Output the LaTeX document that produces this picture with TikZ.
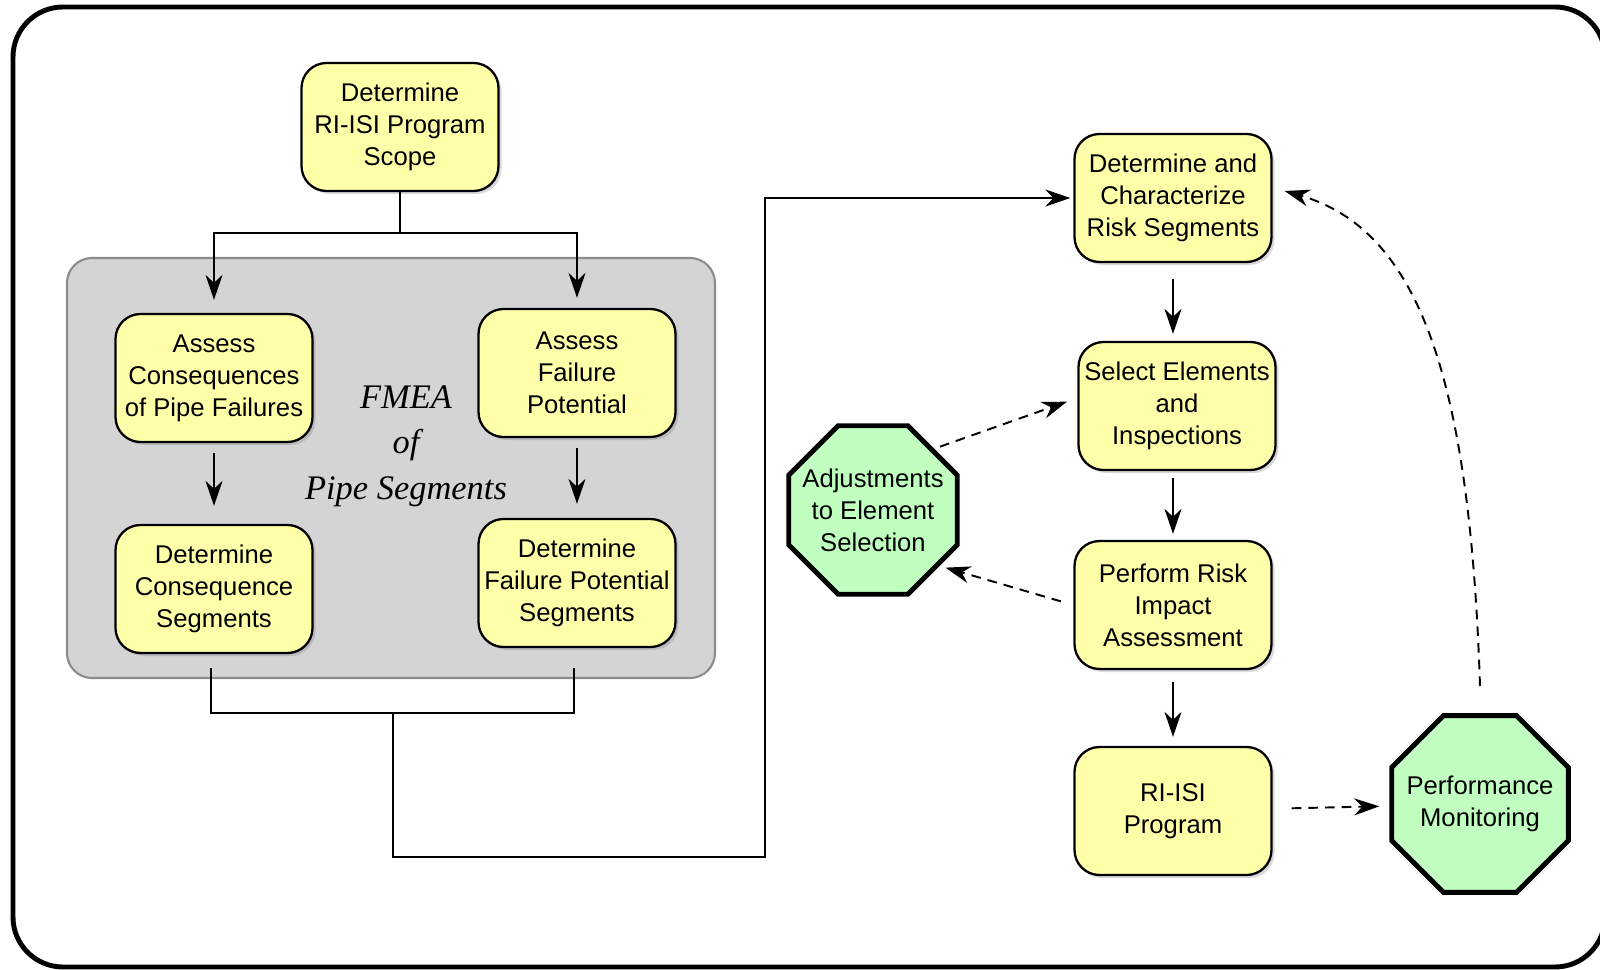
\documentclass[tikz,border=0pt]{standalone}
\usepackage{fontspec}
\setmainfont{Liberation Sans}
\newfontfamily\fmeafont{Liberation Serif}
\usetikzlibrary{arrows.meta,shapes.geometric,shadows}
\definecolor{boxyellow}{RGB}{255,255,170}
\definecolor{octgreen}{RGB}{192,255,192}
\definecolor{panelgray}{RGB}{212,212,212}
\definecolor{panelline}{RGB}{140,140,140}
\begin{document}
\begin{tikzpicture}[
    stepbox/.style={draw, line width=1.3pt, rounded corners=0.5cm, fill=boxyellow,
      minimum width=3.94cm, minimum height=2.56cm, inner sep=1pt, align=center,
      font=\fontsize{14.6}{18.2}\selectfont,
      drop shadow={shadow xshift=0.6mm, shadow yshift=-0.6mm, opacity=0.3}},
    octbox/.style={draw, line width=2.8pt, regular polygon, regular polygon sides=8,
      fill=octgreen, minimum size=3.6cm, inner sep=-0.22cm, align=center,
      font=\fontsize{14.6}{18.2}\selectfont},
    arr/.style={line width=1.1pt, -{Stealth[length=0.5cm, width=0.34cm, inset=0.16cm]}},
    dasharr/.style={arr, dash pattern=on 5.5pt off 4pt}
  ]
      \useasboundingbox (0,0) rectangle (32,-19.4);
      \draw[line width=2.8pt, rounded corners=1cm] (0.26,-0.14) rectangle (32.1,-19.34);
      \draw[fill=panelgray, draw=panelline, line width=1.2pt, rounded corners=0.5cm]
        (1.34,-5.16) rectangle (14.3,-13.56);

      \node[stepbox] (scope) at (8.0,-2.54) {Determine\\RI-ISI Program\\Scope};
      \node[stepbox] (assessC) at (4.28,-7.56) {Assess\\Consequences\\of Pipe Failures};
      \node[stepbox] (assessF) at (11.54,-7.46) {Assess\\Failure\\Potential};
      \node[stepbox] (detC) at (4.28,-11.78) {Determine\\Consequence\\Segments};
      \node[stepbox] (detF) at (11.54,-11.66) {Determine\\Failure Potential\\Segments};
      \node[font=\fmeafont\itshape\fontsize{19.6}{26}\selectfont, align=center] (fmea)
        at (8.12,-8.92) {FMEA\\of\\Pipe Segments};

      \node[stepbox] (charact) at (23.46,-3.96) {Determine and\\Characterize\\Risk Segments};
      \node[stepbox] (select) at (23.54,-8.12) {Select Elements\\and\\Inspections};
      \node[stepbox] (perform) at (23.46,-12.1) {Perform Risk\\Impact\\Assessment};
      \node[stepbox] (program) at (23.46,-16.22) {RI-ISI\\Program};
      \node[octbox] (adjust) at (17.46,-10.2) {Adjustments\\to Element\\Selection};
      \node[octbox] (monitor) at (29.6,-16.08) {Performance\\Monitoring};

      \coordinate (split) at (8.0,-4.66);
      \coordinate (cL) at (4.22,-13.36);
      \coordinate (cR) at (11.48,-13.36);
      \coordinate (merge) at (7.86,-14.26);
      \coordinate (low) at (7.86,-17.14);
      \coordinate (riser) at (15.3,-17.14);
      \coordinate (mtop) at (29.6,-13.72);

      \begin{scope}[line width=1.1pt]
        \draw (scope) -- (split);
        \draw[arr, shorten >=0.26cm] (split) -| (assessC.north);
        \draw[arr, shorten >=0.2cm] (split) -| (assessF.north);
        \draw[arr, shorten <=0.2cm, shorten >=0.36cm] (assessC) -- (detC);
        \draw[arr, shorten <=0.2cm, shorten >=0.28cm] (assessF) -- (detF);
        \draw (cL) |- (merge);
        \draw (cR) |- (merge);
        \draw[arr, shorten >=0.06cm] (merge) -- (low) -- (riser) |- (charact.west);
        \draw[arr, shorten <=0.32cm, shorten >=0.14cm] (charact) -- (perform.north |- select.north);
        \draw[arr, shorten <=0.14cm, shorten >=0.12cm] (select.south -| perform) -- (perform);
        \draw[arr, shorten <=0.24cm, shorten >=0.18cm] (perform) -- (program);
      \end{scope}

      \begin{scope}
        \draw[dasharr, shorten <=0.12cm, shorten >=0.22cm] (adjust.45) -- ([yshift=0.16cm]select.west);
        \draw[dasharr, shorten <=0.26cm, shorten >=0.12cm] (perform.west) -- (adjust.-40);
        \draw[dasharr, shorten <=0.38cm, shorten >=0.2cm] (program) -- (monitor);
        \draw[dasharr] (mtop) .. controls (29.4,-7.6) and (28.4,-4.6) .. ([xshift=0.24cm,yshift=0.14cm]charact.east);
      \end{scope}
    \end{tikzpicture}
\end{document}
